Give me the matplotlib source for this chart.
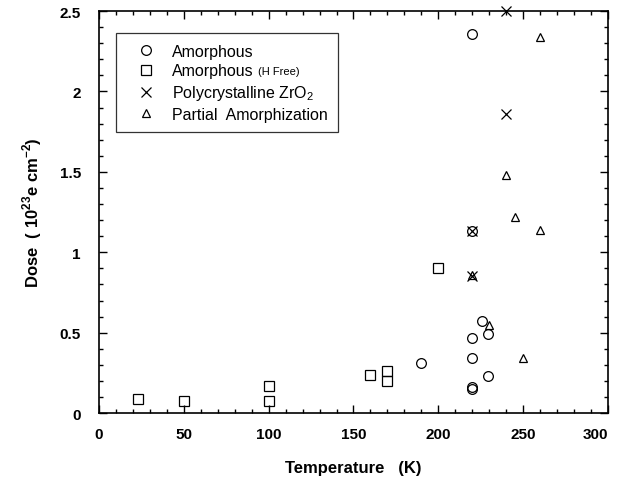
import matplotlib
matplotlib.use('Agg')
import matplotlib.pyplot as plt
from matplotlib.lines import Line2D
from matplotlib.ticker import MultipleLocator, FormatStrFormatter

plt.rcParams['font.family'] = ['Liberation Sans', 'DejaVu Sans']
plt.rcParams['mathtext.fontset'] = 'custom'
plt.rcParams['mathtext.rm'] = 'Liberation Sans'
plt.rcParams['mathtext.bf'] = 'Liberation Sans:bold'

# Amorphous
amorph_temp = [220, 225.5, 229.5, 220, 220, 190, 229.5, 220, 220, 220]
amorph_dose = [2.36, 0.57, 0.49, 0.47, 0.34, 0.31, 0.23, 0.16, 0.15, 1.13]

# Amorphous (H free)
hfree_temp = [23, 50, 100, 100, 160, 170, 170, 200]
hfree_dose = [0.085, 0.075, 0.17, 0.075, 0.24, 0.26, 0.2, 0.9]

# Polycrystalline ZrO2
poly_temp = [240, 240, 220, 220]
poly_dose = [2.5, 1.86, 1.13, 0.85]

# Partial amorphization
partial_temp = [260, 240, 245, 260, 230, 250, 220]
partial_dose = [2.34, 1.48, 1.22, 1.14, 0.55, 0.34, 0.86]

fig = plt.figure(figsize=(6.18, 4.81), dpi=100)
ax = fig.add_axes([0.160, 0.139, 0.824, 0.836])

mk = dict(linestyle='none', markerfacecolor='none', markeredgecolor='black', markeredgewidth=0.9, clip_on=False)
ax.plot(amorph_temp, amorph_dose, marker='o', markersize=7, **mk)
ax.plot(hfree_temp, hfree_dose, marker='s', markersize=7, **mk)
ax.plot(poly_temp, poly_dose, marker='x', markersize=7, **mk)
ax.plot(partial_temp, partial_dose, marker='^', markersize=6, **mk)

ax.set_xlim(0, 300)
ax.set_ylim(0, 2.5)
ax.xaxis.set_major_locator(MultipleLocator(50))
ax.xaxis.set_minor_locator(MultipleLocator(10))
ax.yaxis.set_major_locator(MultipleLocator(0.5))
ax.yaxis.set_minor_locator(MultipleLocator(0.1))
ax.yaxis.set_major_formatter(FormatStrFormatter('%g'))

ax.tick_params(which='both', direction='in', top=True, right=True, width=1)
ax.tick_params(which='major', length=6)
ax.tick_params(which='minor', length=3)
ax.tick_params(axis='x', which='major', pad=10, labelsize=11)
ax.tick_params(axis='y', which='major', pad=13, labelsize=11)
for s in ax.spines.values():
    s.set_linewidth(1.2)

ax.set_xlabel('Temperature   (K)', fontsize=12, fontweight='bold', labelpad=14)
ax.set_ylabel(r'Dose  ( 10$^{\mathbf{23}}$e cm$^{\mathbf{-2}}$)', fontsize=12, fontweight='bold', labelpad=11)

handles = [
    Line2D([], [], marker='o', markersize=7, **mk),
    Line2D([], [], marker='s', markersize=7, **mk),
    Line2D([], [], marker='x', markersize=7, **mk),
    Line2D([], [], marker='^', markersize=6, **mk),
]
labels = ['Amorphous', 'Amorphous', r'Polycrystalline ZrO$_\mathregular{2}$',
          'Partial  Amorphization']
leg = ax.legend(handles, labels, loc='upper left', bbox_to_anchor=(0.033, 0.945),
                frameon=True, fancybox=False, edgecolor='black', fontsize=11.5,
                handlelength=2.45, handletextpad=0.4, labelspacing=0.3, borderpad=0.65,
                borderaxespad=0)
leg.get_frame().set_linewidth(0.9)

fig.canvas.draw()
for lab in ax.get_xticklabels() + ax.get_yticklabels():
    lab.set_fontweight('bold')
# keep the last x label ("300") inside the picture
for tick in ax.xaxis.get_major_ticks():
    if tick.label1.get_text() == '300':
        tick.label1.set_horizontalalignment('right')
        tick.label1.set_x(304)

# small "(H Free)" appended after second legend label
t1 = leg.get_texts()[1]
bb = t1.get_window_extent()
inv = fig.transFigure.inverted()
x1, y0 = inv.transform((bb.x1, bb.y0))
fig.text(x1 + 0.007, y0 + 0.004, '(H Free)', fontsize=8, ha='left', va='bottom')

fig.savefig('out.png', dpi=100)
